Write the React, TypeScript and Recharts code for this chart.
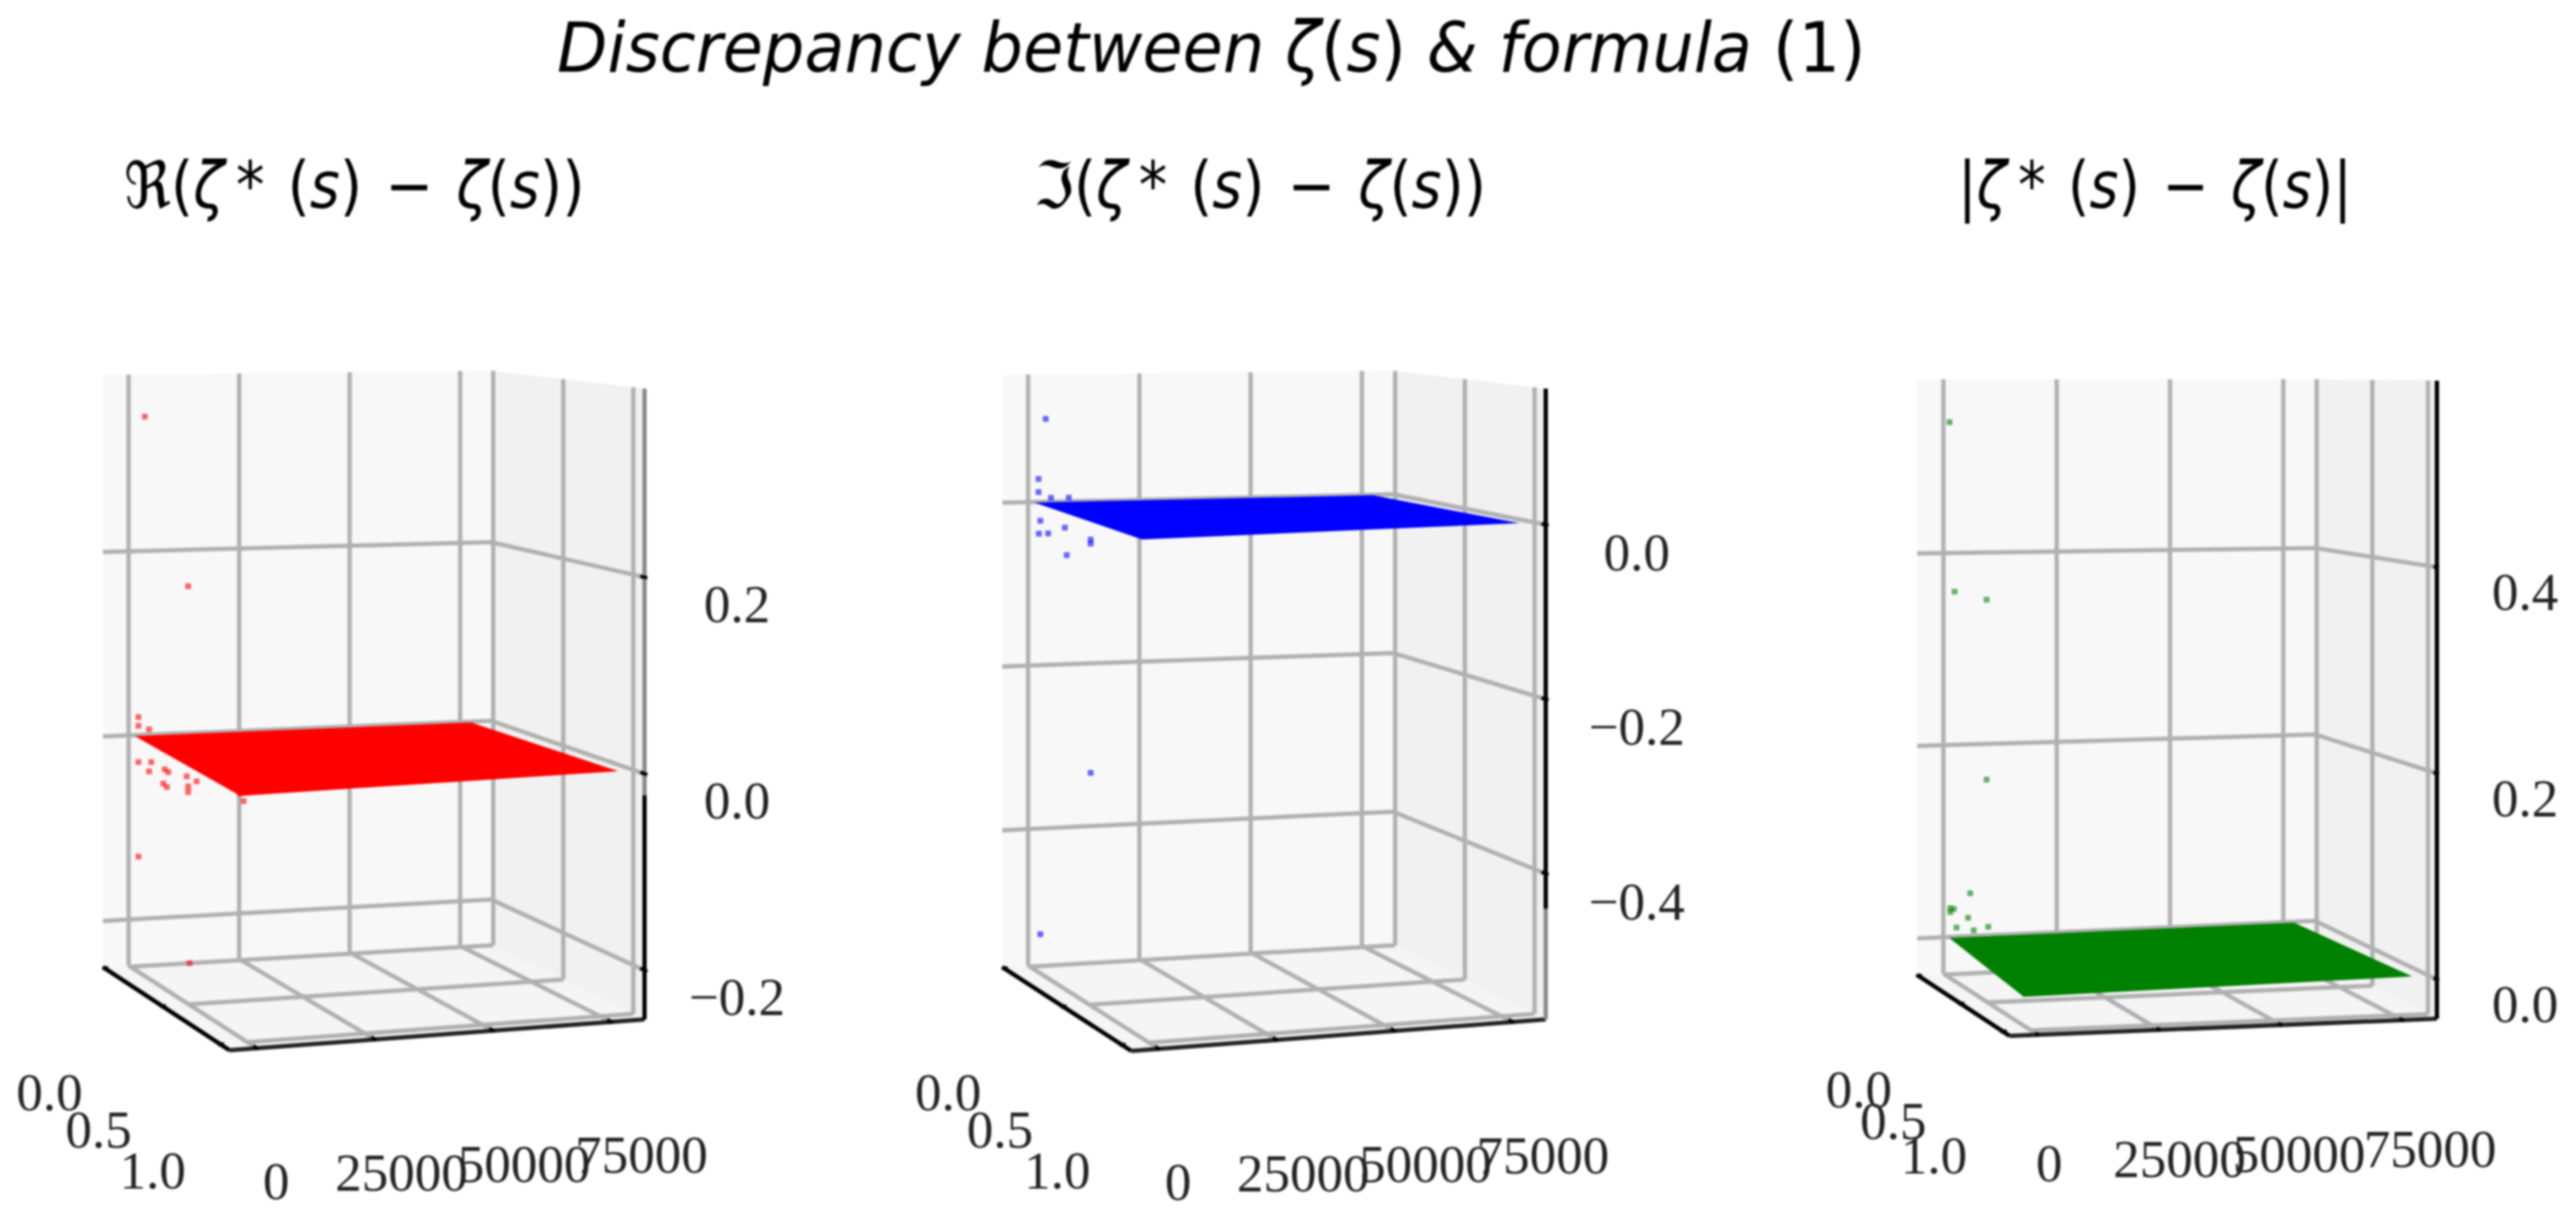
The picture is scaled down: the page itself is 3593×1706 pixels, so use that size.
import { Area, ComposedChart, Line, Scatter, XAxis, YAxis } from "recharts"

const WIDTH = 3593
const HEIGHT = 1706

// values
const sTicks = [0, 0.5, 1]
const tTicks = [0, 25000, 50000, 75000]
const realZTicks = [-0.2, 0, 0.2]
const imagZTicks = [-0.4, -0.2, 0]
const absZTicks = [0, 0.2, 0.4]

// outline of the flat sheet of points, as [s, t, z]
const sheetBackLeft = [0, 1000, 0]
const sheetBackRight = [0, 77000, 0]
const sheetFrontRight = [1.01, 78500, 0]
const sheetFrontLeft = [1, -1500, -0.006]

// stray points as [t, z]; depth cannot be read from the picture so they sit on the back wall
const realOutliers = [
  [3268, 0.3465], [13059, 0.161], [1824, 0.0204], [1824, 0.011], [4231, 0.0067],
  [1824, -0.0284], [4231, -0.039], [4713, -0.029], [7762, -0.0375], [8565, -0.0407],
  [7441, -0.0529], [8244, -0.0568], [13059, -0.0572], [13059, -0.0634], [14985, -0.0521],
  [12738, -0.0462], [25578, -0.0761], [24775, -0.0675], [1824, -0.131], [13380, -0.25],
]
const imagOutliers = [
  [3540, 0.102], [1940, 0.0287], [1940, 0.0126], [4740, 0.0053], [8740, 0.005],
  [2340, -0.0225], [2020, -0.0382], [4100, -0.0382], [7860, -0.0316], [8260, -0.0653],
  [13640, -0.047], [13640, -0.052], [13640, -0.3334], [2340, -0.528],
]
const absOutliers = [
  [1078, 0.5363], [2175, 0.36], [9230, 0.351], [9230, 0.1633], [5625, 0.0455],
  [1234, 0.0308], [2000, 0.0297], [1234, 0.0267], [5150, 0.02], [2600, 0.0104],
  [6400, 0.0067], [9600, 0.0097],
]

const panels = [
  {
    color: "#ff0000",
    zTicks: realZTicks,
    outliers: realOutliers,
    zRange: [-0.25, 0.392],
    floor: { L: [143.6, 1349], B: [685, 1317], R: [899, 1422], F: [320, 1465] },
    top: { L: 523, B: 517, R: 542, F: 551 },
    axisBlack: [-0.25, -0.022],
    sLabelX: [-77, -89, -94],
    sLabelY: [173, 172, 176],
    tLabelX: [27, 37, 43, 42],
    tLabelY: 186,
    zLabel: [129, 38],
  },
  {
    color: "#0000ff",
    zTicks: imagZTicks,
    outliers: imagOutliers,
    zRange: [-0.567, 0.156],
    floor: { L: [1398, 1349], B: [1943, 1317], R: [2156, 1422], F: [1578, 1466] },
    top: { L: 523, B: 517, R: 542, F: 552 },
    axisBlack: [-0.44, 0.156],
    sLabelX: [-78, -88, -90],
    sLabelY: [173, 172, 176],
    tLabelX: [27, 37, 43, 42],
    tLabelY: 186,
    zLabel: [127, 39],
  },
  {
    color: "#008000",
    zTicks: absZTicks,
    outliers: absOutliers,
    zRange: [-0.038, 0.581],
    floor: { L: [2674, 1360], B: [3229, 1334], R: [3399, 1421], F: [2803, 1445] },
    top: { L: 529, B: 529, R: 531, F: 526 },
    axisBlack: [-0.038, 0.581],
    sLabelX: [-83, -94, -96],
    sLabelY: [159, 164, 173],
    tLabelX: [16, 28, 25, 38],
    tLabelY: 180,
    zLabel: [123, 35],
  },
]

const S_RANGE = [-0.015, 1.08]
const T_RANGE = [-5800, 82000]

const lerp = (a: number, b: number, f: number) => a + (b - a) * f
const frac = (v: number, r: number[]) => (v - r[0]) / (r[1] - r[0])

// trilinear mapping of the 3d box onto the picture plane
function makeProject(p: any) {
  const { L, B, R, F } = p.floor
  return (s: number, t: number, z: number) => {
    const u = frac(s, S_RANGE)
    const v = frac(t, T_RANGE)
    const w = frac(z, p.zRange)
    const x = lerp(lerp(L[0], B[0], v), lerp(F[0], R[0], v), u)
    const y0 = lerp(lerp(L[1], B[1], v), lerp(F[1], R[1], v), u)
    const y1 = lerp(lerp(p.top.L, p.top.B, v), lerp(p.top.F, p.top.R, v), u)
    return { x, y: lerp(y0, y1, w) }
  }
}

function yOnChain(chain: any[], x: number) {
  for (let i = 0; i < chain.length - 1; i++) {
    const a = chain[i]
    const b = chain[i + 1]
    if (x >= a.x && x <= b.x) return b.x === a.x ? a.y : lerp(a.y, b.y, (x - a.x) / (b.x - a.x))
  }
  return chain[chain.length - 1].y
}

// polygon as rows of [lower, upper] for a range Area
function bandRows(upper: any[], lower: any[]) {
  const xs = [...new Set([...upper, ...lower].map((q) => q.x))].sort((a, b) => a - b)
  return xs.map((x) => ({ x, band: [yOnChain(lower, x), yOnChain(upper, x)] }))
}

const Dot = (color: string) => (props: any) => (
  <rect x={props.cx - 4} y={props.cy - 4} width={8} height={8} fill={color} fillOpacity={0.6} />
)

const TickText = (props: any) => (
  <text
    x={props.cx}
    y={props.cy}
    textAnchor="middle"
    dominantBaseline="central"
    fontFamily="'Liberation Serif', serif"
    fontSize={74}
    fill="#222222"
  >
    {props.payload.label}
  </text>
)

function panelSeries(p: any, i: number) {
  const project = makeProject(p)
  const [sLo, sHi] = S_RANGE
  const [tLo, tHi] = T_RANGE
  const [zLo, zHi] = p.zRange
  const items: any[] = []
  const line = (key: string, pts: any[], stroke: string, width: number, zIndex: number) =>
    items.push(
      <Line
        key={`${i}-${key}`}
        data={pts}
        dataKey="y"
        type="linear"
        stroke={stroke}
        strokeWidth={width}
        dot={false}
        activeDot={false}
        legendType="none"
        zIndex={zIndex}
        isAnimationActive={false}
      />
    )
  const pane = (key: string, upper: any[], lower: any[], fill: string, zIndex: number) =>
    items.push(
      <Area
        key={`${i}-${key}`}
        data={bandRows(upper, lower)}
        dataKey="band"
        type="linear"
        stroke="none"
        fill={fill}
        fillOpacity={1}
        dot={false}
        activeDot={false}
        legendType="none"
        zIndex={zIndex}
        isAnimationActive={false}
      />
    )

  // panes
  pane("back", [project(sLo, tLo, zHi), project(sLo, tHi, zHi)], [project(sLo, tLo, zLo), project(sLo, tHi, zLo)], "#f8f8f8", 100)
  pane("side", [project(sLo, tHi, zHi), project(sHi, tHi, zHi)], [project(sLo, tHi, zLo), project(sHi, tHi, zLo)], "#f1f1f1", 100)
  pane("floor", [project(sLo, tLo, zLo), project(sLo, tHi, zLo), project(sHi, tHi, zLo)], [project(sLo, tLo, zLo), project(sHi, tLo, zLo), project(sHi, tHi, zLo)], "#f5f5f5", 100)

  // grid
  const GRID = "#b0b0b0"
  p.zTicks.forEach((z: number) => {
    line(`gz${z}`, [project(sLo, tLo, z), project(sLo, tHi, z), project(sHi, tHi, z)], GRID, 6, 400)
  })
  tTicks.forEach((t) => {
    line(`gtw${t}`, [project(sLo, t, zLo), project(sLo, t, zHi)], GRID, 6, 400)
    line(`gtf${t}`, [project(sLo, t, zLo), project(sHi, t, zLo)], GRID, 6, 400)
  })
  sTicks.forEach((s) => {
    line(`gsw${s}`, [project(s, tHi, zLo), project(s, tHi, zHi)], GRID, 6, 400)
    line(`gsf${s}`, [project(s, 0, zLo), project(s, tHi, zLo)], GRID, 6, 400)
  })

  // axis lines
  line("axs", [project(sLo, tLo, zLo), project(sHi, tLo, zLo)], "#000000", 6, 410)
  line("axt", [project(sHi, tLo, zLo), project(sHi, tHi, zLo)], "#222222", 6, 410)
  line("axzg", [project(sHi, tHi, zLo), project(sHi, tHi, zHi)], "#8a8a8a", 6, 410)
  line("axz", [project(sHi, tHi, p.axisBlack[0]), project(sHi, tHi, p.axisBlack[1])], "#000000", 6, 411)

  // tick marks
  p.zTicks.forEach((z: number) => {
    line(`tz${z}`, [project(sHi - 0.03, tHi, z), project(sHi + 0.02, tHi, z)], "#000000", 5, 412)
  })
  tTicks.forEach((t) => {
    line(`tt${t}`, [project(sHi - 0.03, t, zLo), project(sHi + 0.01, t, zLo)], "#000000", 5, 412)
  })
  sTicks.forEach((s) => {
    line(`ts${s}`, [project(s, tLo + 800, zLo), project(s, tLo - 500, zLo)], "#000000", 5, 412)
  })

  // the sheet of points around zero
  const corner = (c: number[]) => project(c[0], c[1], c[2])
  pane(
    "sheet",
    [corner(sheetBackLeft), corner(sheetBackRight), corner(sheetFrontRight)],
    [corner(sheetBackLeft), corner(sheetFrontLeft), corner(sheetFrontRight)],
    p.color,
    500
  )

  items.push(
    <Scatter
      key={`${i}-outliers`}
      data={p.outliers.map(([t, z]: number[]) => project(0, t, z))}
      shape={Dot(p.color)}
      legendType="none"
      zIndex={600}
      isAnimationActive={false}
    />
  )

  // tick labels, placed off the box edges like the 3d axis does
  const labels = [
    ...sTicks.map((s, k) => {
      const q = project(s, tLo, zLo)
      return { x: q.x + p.sLabelX[k], y: q.y + p.sLabelY[k], label: s.toFixed(1) }
    }),
    ...tTicks.map((t, k) => {
      const q = project(sHi, t, zLo)
      return { x: q.x + p.tLabelX[k], y: q.y + p.tLabelY, label: String(t) }
    }),
    ...p.zTicks.map((z: number) => {
      const q = project(sHi, tHi, z)
      return { x: q.x + p.zLabel[0], y: q.y + p.zLabel[1], label: z.toFixed(1).replace("-", "\u2212") }
    }),
  ]
  items.push(
    <Scatter
      key={`${i}-labels`}
      data={labels}
      shape={TickText}
      legendType="none"
      zIndex={700}
      isAnimationActive={false}
    />
  )
  return items
}

const it = { fontStyle: "italic" } as const
const GAP = "\u2009\u2009"

function Diff() {
  return (
    <>
      <tspan {...it}>ζ</tspan>{"\u2009*"}{GAP}(<tspan {...it}>s</tspan>){GAP}−{GAP}<tspan {...it}>ζ</tspan>(<tspan {...it}>s</tspan>)
    </>
  )
}

function Titles() {
  const font = "'DejaVu Sans', sans-serif"
  const sub = { fontFamily: font, fontSize: 90, fill: "#000" } as const
  return (
    <svg width={WIDTH} height={HEIGHT} style={{ position: "absolute", left: 0, top: 0 }}>
      <text transform="translate(777 100) scale(0.941 1)" fontFamily={font} fontSize={97} fill="#000">
        <tspan {...it}>Discrepancy between ζ</tspan>(<tspan {...it}>s</tspan>) <tspan {...it}>&amp; formula</tspan> (1)
      </text>
      <text transform="translate(173 290) scale(0.89 1)" {...sub}>
        ℜ(<Diff />)
      </text>
      <text transform="translate(1442 290) scale(0.887 1)" {...sub}>
        ℑ(<Diff />)
      </text>
      <text transform="translate(2731 290) scale(0.86 1)" {...sub}>
        |<Diff />|
      </text>
    </svg>
  )
}

export default function App() {
  return (
    <div style={{ position: "absolute", left: 0, top: 0, width: WIDTH, height: HEIGHT, background: "#fff", filter: "blur(1.8px)" }}>
      <ComposedChart width={WIDTH} height={HEIGHT} margin={{ top: 0, right: 0, bottom: 0, left: 0 }}>
        <XAxis type="number" dataKey="x" domain={[0, WIDTH]} hide allowDataOverflow />
        <YAxis type="number" dataKey="y" domain={[0, HEIGHT]} reversed hide allowDataOverflow />
        {panels.flatMap(panelSeries)}
      </ComposedChart>
      <Titles />
    </div>
  )
}
